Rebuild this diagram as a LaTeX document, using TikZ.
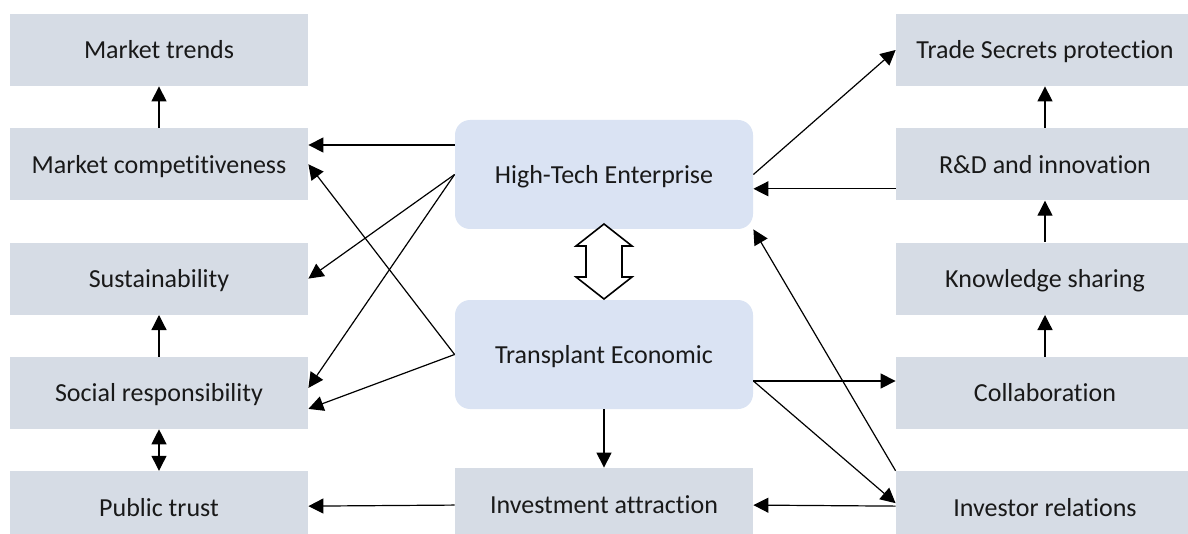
\documentclass[tikz,border=0pt]{standalone}
\usepackage{fontspec}
\setmainfont[Ligatures = NoCommon]{Carlito}
\usetikzlibrary{positioning}
\usetikzlibrary{arrows.meta}
\usetikzlibrary{calc}
\definecolor{sidegray}{HTML}{D6DCE5}
\definecolor{coreblue}{HTML}{DAE3F3}

\begin{document}
\begin{tikzpicture}[
x = 0.5pt, y = -0.5pt,
node distance = 20.75pt,
side/.style = {shape = rectangle, fill = sidegray, minimum width = 149pt, minimum height = 36pt, inner sep = 0.1cm, text height = 10pt, text depth = 1pt, font = \fontsize{13}{15}\selectfont, text = black!90},
core/.style = {shape = rectangle, rounded corners = 7.5pt, fill = coreblue, minimum width = 149pt, minimum height = 54.5pt, inner sep = 0.1cm, text height = 10pt, text depth = 1pt, font = \fontsize{13}{15}\selectfont, text = black!90},
arr/.style = {-{Triangle[length = 7.5pt, width = 7.5pt]}, line width = 0.6pt},
barr/.style = {{Triangle[length = 7.5pt, width = 7.5pt]}-{Triangle[length = 7.5pt, width = 7.5pt]}, line width = 0.6pt},
dbl/.style = {draw, fill = white, line width = 0.8pt, line join = miter},
]
\useasboundingbox (0,0) rectangle (1188,534);
\node[side] (A) at (159,50) {Market trends};
\node[side] (B) [below = of A] {Market competitiveness};
\node[side] (C) [below = of B] {Sustainability};
\node[side] (D) [below = of C] {Social responsibility};
\node[side] (E) [below = of D] {Public trust};

\node[core] (F) at (604,174.5) {High-Tech Enterprise};
\node[core] (G) at (604,354.5) {Transplant Economic};
\node[side] (H) at (604,504) {Investment attraction};

\node[side] (I) at (1045,50) {Trade Secrets protection};
\node[side] (J) [below = of I] {R\&D and innovation};
\node[side] (K) [below = of J] {Knowledge sharing};
\node[side] (L) [below = of K] {Collaboration};
\node[side] (M) [below = of L] {Investor relations};

\coordinate (m) at ($(F.south)!0.5!(G.north)$);
\draw[dbl] ([yshift = 1.5pt]m) ++(0,-37.5) -- ++(28,22) -- ++(-10,0) -- ++(0,31) -- ++(10,0) -- ++(-28,22) -- ++(-28,-22) -- ++(10,0) -- ++(0,-31) -- ++(-10,0) -- cycle;

\coordinate (p) at ([yshift = 14.75pt]F.west);
\coordinate (q) at ([yshift = -12.25pt]J.west);
\coordinate (r) at ([yshift = -13.25pt]G.east);

\path[arr](B) edge (A);
\path[arr](D) edge (C);
\path[barr](D) edge (E);
\path[arr](p) edge (p -| B.east);
\path[arr](F.west) edge (C.east);
\path[arr](F.west) edge ([yshift = 2.5pt]D.east);
\path[arr](G.west) edge (B.east);
\path[arr](G.west) edge ([yshift = -8pt]D.east);
\path[arr](G) edge (H);
\path[arr](H) edge (E);
\path[arr](M) edge (H);
\path[arr](F.east) edge (I.west);
\path[arr](q) edge (q -| F.east);
\path[arr](M.north west) edge (F.south east);
\path[arr](r) edge (r -| L.west);
\path[arr](r) edge ([yshift = 2pt]M.west);
\path[arr](J) edge (I);
\path[arr](K) edge (J);
\path[arr](L) edge (K);
\end{tikzpicture}
\end{document}
